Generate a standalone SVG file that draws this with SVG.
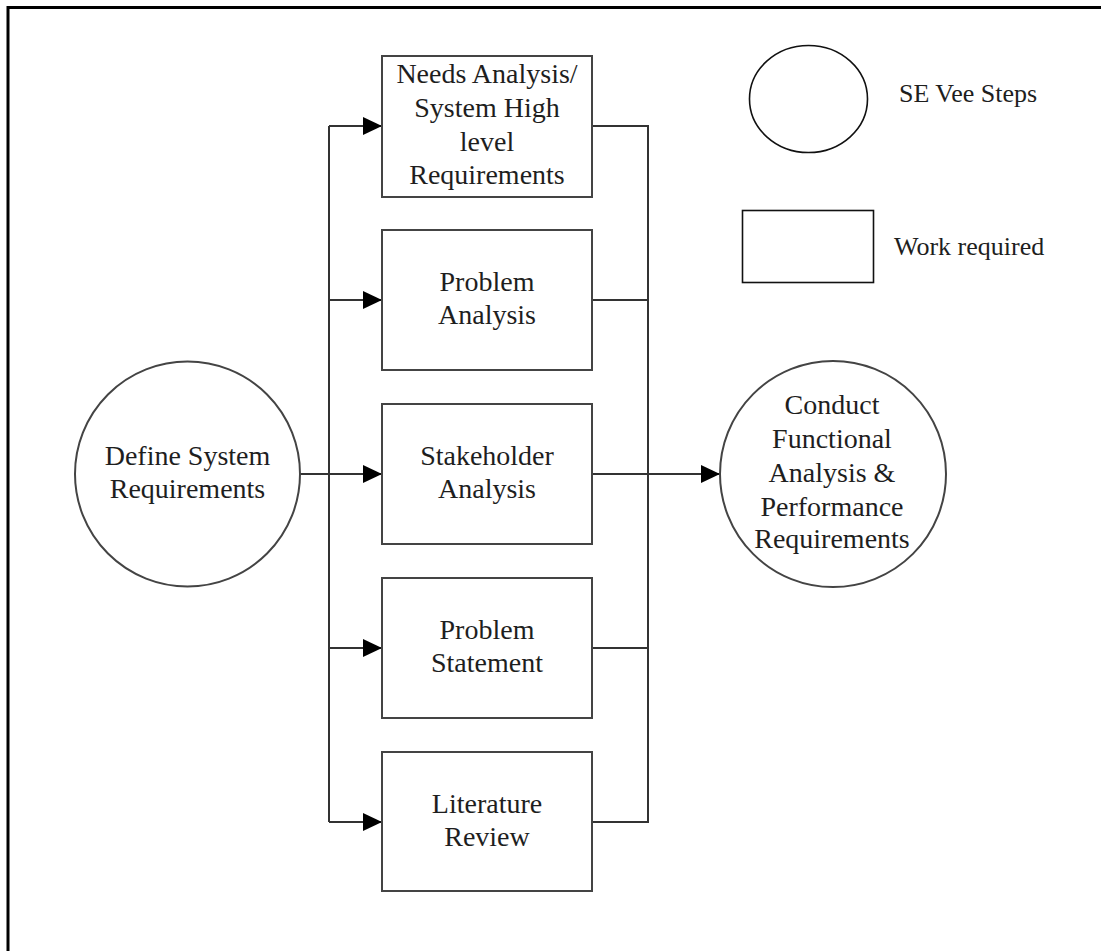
<svg xmlns="http://www.w3.org/2000/svg" width="1101" height="951" viewBox="0 0 1101 951">
  <style>
    .frame { stroke: #000; stroke-width: 3; fill: none; }
    .box { fill: #fff; stroke: #444; stroke-width: 2; }
    .step { fill: #fff; stroke: #444; stroke-width: 2; }
    .key { fill: #fff; stroke: #111; stroke-width: 1.6; }
    .wire { fill: none; stroke: #333; stroke-width: 2; }
    text { font-family: "Liberation Serif", "Times New Roman", serif; fill: #1e1e1e; text-anchor: middle; }
    .lbl { font-size: 28px; }
    .leg { font-size: 26px; text-anchor: start; }
  </style>
  <defs>
    <marker id="arrow" markerUnits="userSpaceOnUse" markerWidth="19" markerHeight="18" refX="19" refY="9" orient="auto">
      <path d="M0,0 L19,9 L0,18 Z" fill="#000"/>
    </marker>
  </defs>

  <rect width="1101" height="951" fill="#fff"/>
  <!-- outer frame (top and left edges) -->
  <path class="frame" d="M8,951 V7.5 H1101"/>

  <!-- connectors -->
  <g id="connectors">
    <path class="wire" d="M329,126 V822"/>
    <path class="wire" d="M300,474 H329"/>
    <path class="wire" d="M329,126 H382" marker-end="url(#arrow)"/>
    <path class="wire" d="M329,300 H382" marker-end="url(#arrow)"/>
    <path class="wire" d="M329,474 H382" marker-end="url(#arrow)"/>
    <path class="wire" d="M329,648 H382" marker-end="url(#arrow)"/>
    <path class="wire" d="M329,822 H382" marker-end="url(#arrow)"/>
    <path class="wire" d="M592,126 H648 V822 H592"/>
    <path class="wire" d="M592,300 H648"/>
    <path class="wire" d="M592,648 H648"/>
    <path class="wire" d="M592,474 H720" marker-end="url(#arrow)"/>
  </g>

  <g id="define-system-requirements">
    <circle class="step" cx="187.5" cy="474" r="112.5"/>
    <text class="lbl" x="187.5" y="465">Define System</text>
    <text class="lbl" x="187.5" y="498">Requirements</text>
  </g>

  <g id="needs-analysis">
    <rect class="box" x="382" y="56" width="210" height="141"/>
    <text class="lbl" x="487" y="83">Needs Analysis/</text>
    <text class="lbl" x="487" y="117">System High</text>
    <text class="lbl" x="487" y="151">level</text>
    <text class="lbl" x="487" y="184">Requirements</text>
  </g>

  <g id="problem-analysis">
    <rect class="box" x="382" y="230" width="210" height="140"/>
    <text class="lbl" x="487" y="291">Problem</text>
    <text class="lbl" x="487" y="324">Analysis</text>
  </g>

  <g id="stakeholder-analysis">
    <rect class="box" x="382" y="404" width="210" height="140"/>
    <text class="lbl" x="487" y="465">Stakeholder</text>
    <text class="lbl" x="487" y="498">Analysis</text>
  </g>

  <g id="problem-statement">
    <rect class="box" x="382" y="578" width="210" height="140"/>
    <text class="lbl" x="487" y="639">Problem</text>
    <text class="lbl" x="487" y="672">Statement</text>
  </g>

  <g id="literature-review">
    <rect class="box" x="382" y="752" width="210" height="139"/>
    <text class="lbl" x="487" y="813">Literature</text>
    <text class="lbl" x="487" y="846">Review</text>
  </g>

  <g id="conduct-functional-analysis">
    <circle class="step" cx="833" cy="474" r="113"/>
    <text class="lbl" x="832" y="414">Conduct</text>
    <text class="lbl" x="832" y="448">Functional</text>
    <text class="lbl" x="832" y="482">Analysis &amp;</text>
    <text class="lbl" x="832" y="516">Performance</text>
    <text class="lbl" x="832" y="548">Requirements</text>
  </g>

  <!-- legend -->
  <g id="legend-step">
    <ellipse class="key" cx="808.5" cy="99" rx="59" ry="53.5"/>
    <text class="leg" x="899" y="102">SE Vee Steps</text>
  </g>
  <g id="legend-work">
    <rect class="key" x="742.5" y="210.5" width="131" height="72"/>
    <text class="leg" x="894" y="255">Work required</text>
  </g>
</svg>
